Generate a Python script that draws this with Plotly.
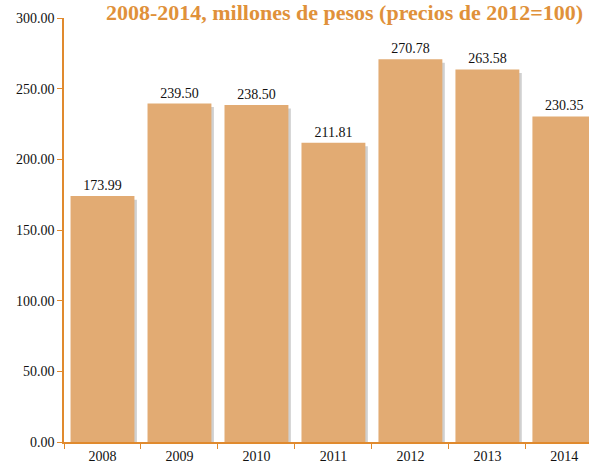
import plotly.graph_objects as go

years = ["2008", "2009", "2010", "2011", "2012", "2013", "2014"]
values = [173.99, 239.50, 238.50, 211.81, 270.78, 263.58, 230.35]

bar_color = "#E2AB73"
axis_color = "#E08A2E"
font_fam = "Liberation Serif, DejaVu Serif, serif"
w = 0.83

fig = go.Figure()
# soft shadow to the right of each bar
fig.add_trace(go.Bar(
    x=years, y=[v - 2.5 for v in values], width=w, offset=-w / 2 + 0.032,
    marker=dict(color="rgba(150,150,150,0.45)", line=dict(width=0)),
    hoverinfo="skip", showlegend=False,
))
fig.add_trace(go.Bar(
    x=years, y=values, width=w, offset=-w / 2,
    marker=dict(color=bar_color, line=dict(width=0)),
    texttemplate="%{y:.2f}", textposition="outside",
    textfont=dict(family=font_fam, size=14, color="#111111"),
    cliponaxis=False, showlegend=False,
))

fig.update_layout(
    width=589, height=468,
    margin=dict(l=64, r=0, t=18, b=26),
    paper_bgcolor="white", plot_bgcolor="white",
    barmode="overlay",
    title=dict(
        text="<b>2008-2014, millones de pesos (precios de 2012=100)</b>",
        x=0.99, xanchor="right", y=0.99, yanchor="top",
        font=dict(family=font_fam, size=22, color="#E0913A"),
    ),
    xaxis=dict(
        type="category", range=[-0.5, 6.32],
        showline=True, linecolor=axis_color, linewidth=1.5,
        ticks="outside", tickson="boundaries", ticklen=5, tickcolor=axis_color,
        tickfont=dict(family=font_fam, size=14, color="#111111"),
        showgrid=False, zeroline=False,
    ),
    yaxis=dict(
        range=[0, 300], tickvals=[0, 50, 100, 150, 200, 250, 300],
        ticktext=["0.00", "50.00", "100.00", "150.00", "200.00", "250.00", "300.00"],
        showline=True, linecolor=axis_color, linewidth=1.5,
        ticks="outside", ticklen=5, tickcolor=axis_color,
        tickfont=dict(family=font_fam, size=14, color="#111111"),
        showgrid=False, zeroline=False,
    ),
)

fig.write_html("out.html")
